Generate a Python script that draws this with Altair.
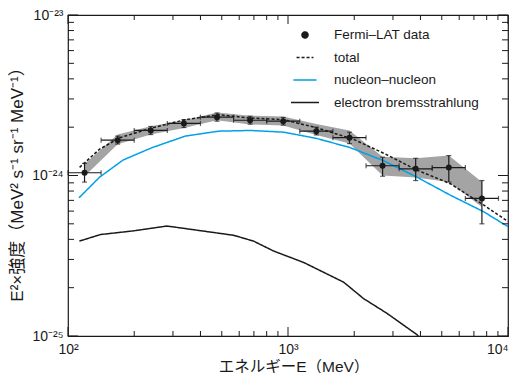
import altair as alt
import pandas as pd

SCALE = 1e-24  # values below are in units of 1e-24 MeV^2 s^-1 sr^-1 MeV^-1

# Fermi-LAT data points
E_center = [118.9, 168.2, 237.8, 336.4, 475.7, 672.7, 951.4, 1345, 1903, 2691, 3805, 5382, 7611]
E_low = [100, 141.4, 200, 282.8, 400, 565.7, 800, 1131, 1600, 2263, 3200, 4525, 6400]
E_high = [141.4, 200, 282.8, 400, 565.7, 800, 1131, 1600, 2263, 3200, 4525, 6400, 9051]
flux = [1.04, 1.66, 1.91, 2.11, 2.31, 2.21, 2.18, 1.89, 1.72, 1.15, 1.10, 1.12, 0.72]
flux_low = [0.91, 1.57, 1.80, 1.99, 2.18, 2.09, 2.06, 1.79, 1.58, 0.99, 0.93, 0.91, 0.50]
flux_high = [1.19, 1.76, 2.02, 2.23, 2.45, 2.34, 2.30, 2.00, 1.86, 1.30, 1.28, 1.33, 0.93]

# systematic band (grey)
band_low = [0.99, 1.565, 1.80, 1.98, 2.21, 2.08, 2.05, 1.785, 1.58, 1.00, 0.97, 0.91, 0.637]
band_high = [1.18, 1.80, 2.03, 2.21, 2.47, 2.36, 2.335, 2.095, 1.91, 1.31, 1.28, 1.33, 0.91]

# model curves
E_total = [112.9, 139.2, 171.6, 240.9, 341.4, 483.5, 674.2, 955, 1354, 1987, 2741, 3858, 5468, 7745, 10000]
total = [1.124, 1.458, 1.718, 1.980, 2.229, 2.391, 2.280, 2.229, 1.980, 1.680, 1.370, 1.08, 0.889, 0.655, 0.517]

E_nn = [112.2, 139.2, 177.8, 240.9, 341.4, 483.5, 674.2, 955, 1137, 1354, 1919, 2720, 3858, 5468, 7745, 10000]
nucleon = [0.726, 0.976, 1.248, 1.491, 1.760, 1.889, 1.908, 1.862, 1.78, 1.70, 1.491, 1.236, 0.976, 0.754, 0.595, 0.48]

E_eb = [112.6, 140.3, 198.7, 281.8, 566, 697.6, 860, 1178, 1789, 2206, 2818, 3858, 4100]
electron = [0.390, 0.4285, 0.452, 0.4844, 0.4242, 0.390, 0.3384, 0.2872, 0.2166, 0.1710, 0.1384, 0.1019, 0.093]

series_names = ["Fermi–LAT data", "total", "nucleon–nucleon", "electron bremsstrahlung"]
series_colors = ["#1a1a1a", "#1a1a1a", "#00a0e9", "#1a1a1a"]
series_dash = [[1, 0], [3, 2], [1, 0], [1, 0]]
series_shape = ["circle", "stroke", "stroke", "stroke"]
series_size = [36, 784, 784, 784]

x_major = [100, 1000, 10000]
x_minor = [200, 300, 400, 500, 600, 700, 800, 900, 2000, 3000, 4000, 5000, 6000, 7000, 8000, 9000]
y_major = [1e-25, 1e-24, 1e-23]
y_minor = [k * 1e-25 for k in range(2, 10)] + [k * 1e-24 for k in range(2, 10)]

W, H = 440, 321
FONT = "Liberation Sans, Arial, Noto Sans CJK JP, sans-serif"
INK = "#1a1a1a"

pts = pd.DataFrame({
    "E": E_center, "Elo": E_low, "Ehi": E_high,
    "f": [v * SCALE for v in flux],
    "flo": [v * SCALE for v in flux_low],
    "fhi": [v * SCALE for v in flux_high],
    "blo": [v * SCALE for v in band_low],
    "bhi": [v * SCALE for v in band_high],
    "series": series_names[0],
})

models = pd.concat([
    pd.DataFrame({"E": E_total, "f": [v * SCALE for v in total], "series": series_names[1]}),
    pd.DataFrame({"E": E_nn, "f": [v * SCALE for v in nucleon], "series": series_names[2]}),
    pd.DataFrame({"E": E_eb, "f": [v * SCALE for v in electron], "series": series_names[3]}),
], ignore_index=True)

xscale = alt.Scale(type="log", domain=[100, 10000], nice=False)
yscale = alt.Scale(type="log", domain=[1e-25, 1e-23], nice=False)

X_AX = alt.Axis(
    values=x_major, title="エネルギーE（MeV）", ticks=False, domain=False, grid=False,
    labelExpr="datum.value < 300 ? '10²' : (datum.value < 3000 ? '10³' : '10⁴')",
    labelAlign={"condition": {"test": "datum.value > 5000", "value": "right"}, "value": "center"},
    labelFontSize=14, labelPadding=6.5, labelFlush=False, labelOverlap=False,
    labelColor=INK, titleColor=INK, titleFontSize=15.5, titleFontWeight="normal",
    titleX=225.5, titleY=30, titleBaseline="middle",
)
Y_AX = alt.Axis(
    values=y_major, title="E²×強度（MeV² s⁻¹ sr⁻¹ MeV⁻¹）", ticks=False, domain=False, grid=False,
    labelExpr="datum.value < 3e-25 ? '10⁻²⁵' : (datum.value < 3e-24 ? '10⁻²⁴' : '10⁻²³')",
    labelFontSize=14, labelPadding=5, labelFlush=False, labelOverlap=False,
    labelColor=INK, titleColor=INK, titleFontSize=17, titleFontWeight="normal",
    titleX=-51, titleY=165, titleBaseline="middle",
)

LEG = alt.Legend(
    title=None, orient="none", legendX=222, legendY=13, padding=0,
    labelFontSize=13.5, labelColor=INK, labelOffset=14,
    symbolStrokeWidth=1.5, symbolFillColor=INK, rowPadding=8.5, clipHeight=14,
)

def sx(field):
    return alt.X(field, type="quantitative", scale=xscale, axis=X_AX)

def sy(field):
    return alt.Y(field, type="quantitative", scale=yscale, axis=Y_AX)

color_enc = alt.Color("series:N", scale=alt.Scale(domain=series_names, range=series_colors), legend=LEG)
dash_enc = alt.StrokeDash("series:N", scale=alt.Scale(domain=series_names, range=series_dash), legend=LEG)
shape_enc = alt.Shape("series:N", scale=alt.Scale(domain=series_names, range=series_shape), legend=LEG)
size_enc = alt.Size("series:N", scale=alt.Scale(domain=series_names, range=series_size), legend=LEG)

band = alt.Chart(pts).mark_area(color="#a4a4a4", opacity=1, interpolate="linear").encode(
    x=sx("E"), y=sy("blo"), y2="bhi"
)

lines = alt.Chart(models).mark_line(strokeWidth=1.5, clip=True).encode(
    x=sx("E"), y=sy("f"), color=color_enc, strokeDash=dash_enc, detail="series:N"
)

xerr = alt.Chart(pts).mark_rule(color=INK, strokeWidth=1.2).encode(x=sx("Elo"), x2="Ehi", y=sy("f"))
yerr = alt.Chart(pts).mark_rule(color=INK, strokeWidth=1.2).encode(x=sx("E"), y=sy("flo"), y2="fhi")
cap_l = alt.Chart(pts).mark_tick(color=INK, orient="vertical", size=5, thickness=1.2).encode(x=sx("Elo"), y=sy("f"))
cap_r = alt.Chart(pts).mark_tick(color=INK, orient="vertical", size=5, thickness=1.2).encode(x=sx("Ehi"), y=sy("f"))
cap_b = alt.Chart(pts).mark_tick(color=INK, orient="horizontal", size=5, thickness=1.2).encode(x=sx("E"), y=sy("flo"))
cap_t = alt.Chart(pts).mark_tick(color=INK, orient="horizontal", size=5, thickness=1.2).encode(x=sx("E"), y=sy("fhi"))

points = alt.Chart(pts).mark_point(filled=True, opacity=1).encode(
    x=sx("E"), y=sy("f"), color=color_enc, shape=shape_enc, size=size_enc
)

def xticks(vals, length):
    df = pd.DataFrame({"v": vals})
    bottom = alt.Chart(df).mark_rule(color=INK, strokeWidth=1).encode(
        x=sx("v"), y=alt.value(H - length), y2=alt.value(H))
    top = alt.Chart(df).mark_rule(color=INK, strokeWidth=1).encode(
        x=sx("v"), y=alt.value(0), y2=alt.value(length))
    return [bottom, top]

def yticks(vals, length):
    df = pd.DataFrame({"v": vals})
    left = alt.Chart(df).mark_rule(color=INK, strokeWidth=1).encode(
        y=sy("v"), x=alt.value(0), x2=alt.value(length))
    right = alt.Chart(df).mark_rule(color=INK, strokeWidth=1).encode(
        y=sy("v"), x=alt.value(W - length), x2=alt.value(W))
    return [left, right]

tick_layers = xticks(x_minor, 5) + xticks(x_major, 9) + yticks(y_minor, 6) + yticks(y_major, 10)

chart = alt.layer(
    band, lines, xerr, yerr, cap_l, cap_r, cap_b, cap_t, points, *tick_layers
).properties(
    width=W, height=H,
    autosize=alt.AutoSizeParams(type="none"),
    padding={"left": 60, "top": 7, "right": 2, "bottom": 37},
).configure(
    font=FONT,
).configure_view(
    stroke=INK, strokeWidth=1.2,
)

chart.save("out.html", embed_options={"renderer": "svg", "actions": False})
